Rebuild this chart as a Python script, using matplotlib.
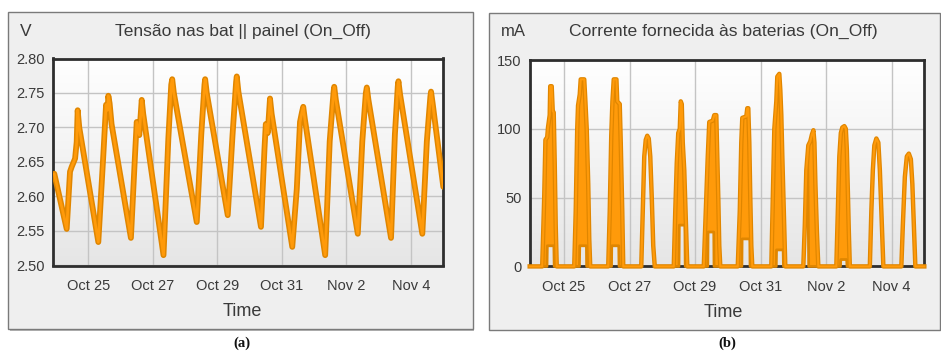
import numpy as np
import matplotlib
matplotlib.use("Agg")
import matplotlib.pyplot as plt
from matplotlib.patches import Rectangle

# ---------------------------------------------------------------------------
# Data (time in days since Oct 25 00:00)
# ---------------------------------------------------------------------------
date_ticks = [0, 2, 4, 6, 8, 10]
date_labels = ["Oct 25", "Oct 27", "Oct 29", "Oct 31", "Nov 2", "Nov 4"]

volt_ticks = [2.50, 2.55, 2.60, 2.65, 2.70, 2.75, 2.80]
current_ticks = [0, 50, 100, 150]

# battery voltage, V
volt_days = [-1.054, -0.67, -0.567, -0.515, -0.41, -0.36, -0.33, -0.28, 0.31,
             0.465, 0.55, 0.60, 0.62, 0.66, 0.72, 1.32,
             1.447, 1.50, 1.58, 1.655, 1.70, 2.33,
             2.48, 2.57, 2.60, 2.65, 3.36,
             3.50, 3.60, 3.62, 3.67, 4.32,
             4.47, 4.58, 4.60, 4.65, 5.35,
             5.46, 5.50, 5.56, 5.63, 5.68, 6.32,
             6.46, 6.56, 6.62, 6.66, 6.71, 7.34,
             7.48, 7.60, 7.62, 7.67, 8.35,
             8.49, 8.60, 8.63, 8.68, 9.38,
             9.50, 9.59, 9.61, 9.66, 10.35,
             10.49, 10.60, 10.62, 10.67, 11.0]
volt_values = [2.633, 2.553, 2.636, 2.643, 2.655, 2.679, 2.725, 2.700, 2.534,
               2.660, 2.733, 2.725, 2.746, 2.735, 2.705, 2.540,
               2.660, 2.708, 2.689, 2.740, 2.720, 2.515,
               2.684, 2.762, 2.770, 2.750, 2.563,
               2.690, 2.762, 2.770, 2.750, 2.573,
               2.690, 2.766, 2.774, 2.752, 2.556,
               2.670, 2.705, 2.692, 2.742, 2.720, 2.527,
               2.611, 2.708, 2.722, 2.730, 2.712, 2.515,
               2.680, 2.752, 2.759, 2.740, 2.546,
               2.680, 2.750, 2.758, 2.740, 2.540,
               2.690, 2.760, 2.767, 2.748, 2.546,
               2.680, 2.745, 2.752, 2.735, 2.614]

# charging current bursts, mA: upper envelope of the on/off switching
burst_top_days = [
    [-0.666, -0.605, -0.568, -0.513, -0.489, -0.437, -0.421, -0.376, -0.345, -0.315, -0.284, -0.254, -0.223],
    [0.312, 0.357, 0.403, 0.428, 0.480, 0.510, 0.617, 0.648, 0.693, 0.739, 0.770, 0.800],
    [1.350, 1.396, 1.442, 1.478, 1.518, 1.600, 1.625, 1.701, 1.732, 1.778, 1.808],
    [2.358, 2.404, 2.450, 2.495, 2.541, 2.587, 2.633, 2.679, 2.724, 2.770],
    [3.351, 3.396, 3.442, 3.488, 3.534, 3.564, 3.595, 3.625, 3.671, 3.717, 3.763],
    [4.267, 4.328, 4.389, 4.435, 4.542, 4.588, 4.649, 4.679, 4.710, 4.740, 4.771],
    [5.305, 5.366, 5.412, 5.443, 5.565, 5.596, 5.626, 5.657, 5.687, 5.718, 5.748],
    [6.329, 6.375, 6.421, 6.482, 6.512, 6.573, 6.604, 6.634, 6.665, 6.711, 6.756],
    [7.306, 7.352, 7.398, 7.459, 7.520, 7.570, 7.614, 7.645, 7.675, 7.721, 7.764],
    [8.314, 8.360, 8.406, 8.452, 8.497, 8.559, 8.604, 8.635, 8.665, 8.696, 8.726],
    [9.337, 9.383, 9.429, 9.475, 9.536, 9.597, 9.643, 9.689, 9.734, 9.750],
    [10.299, 10.345, 10.406, 10.467, 10.528, 10.589, 10.635, 10.681, 10.727],
]
burst_top_mA = [
    [0, 50, 92, 94, 101, 110, 131, 131, 113, 112, 75, 30, 0],
    [0, 40, 100, 117, 125, 136, 136, 122, 100, 60, 20, 0],
    [0, 40, 95, 120, 136, 136, 120, 118, 90, 40, 0],
    [0, 40, 80, 92, 95, 93, 80, 50, 15, 0],
    [0, 40, 75, 97, 100, 120, 118, 90, 70, 35, 0],
    [0, 40, 80, 105, 106, 110, 110, 80, 50, 15, 0],
    [0, 40, 90, 108, 109, 115, 115, 90, 50, 15, 0],
    [0, 50, 100, 120, 138, 140, 128, 110, 80, 40, 0],
    [0, 30, 70, 88, 91, 96, 99, 90, 60, 25, 0],
    [0, 40, 80, 97, 101, 102, 100, 85, 55, 25, 0],
    [0, 40, 70, 88, 93, 90, 70, 40, 10, 0],
    [0, 30, 65, 80, 82, 78, 60, 30, 0],
]
# lower envelope of the switching (None: smooth, no switching)
burst_low_days = [
    [-0.666, -0.52, -0.51, -0.31, -0.30, -0.223],
    [0.312, 0.47, 0.48, 0.684, 0.69, 0.800],
    [1.350, 1.45, 1.457, 1.671, 1.68, 1.808],
    None,
    [3.351, 3.51, 3.52, 3.69, 3.70, 3.763],
    [4.267, 4.39, 4.398, 4.572, 4.58, 4.771],
    [5.305, 5.43, 5.437, 5.672, 5.68, 5.748],
    [6.329, 6.48, 6.488, 6.690, 6.70, 6.756],
    [7.306, 7.352, 7.398, 7.44, 7.47, 7.764],
    [8.314, 8.44, 8.45, 8.63, 8.64, 8.726],
    None,
    None,
]
burst_low_mA = [
    [0, 0, 15, 15, 0, 0],
    [0, 0, 15, 15, 0, 0],
    [0, 0, 15, 15, 0, 0],
    None,
    [0, 0, 30, 30, 0, 0],
    [0, 0, 25, 25, 0, 0],
    [0, 0, 20, 20, 0, 0],
    [0, 0, 12, 12, 0, 0],
    [0, 30, 70, 80, 0, 0],
    [0, 0, 5, 5, 0, 0],
    None,
    None,
]

# ---------------------------------------------------------------------------
# Styling
# ---------------------------------------------------------------------------
W, H = 941, 354
plt.rcParams["font.family"] = ["Liberation Sans", "DejaVu Sans"]
TXT = "#3a3a3a"
ORANGE = "#ff9a0a"
ORANGE_DK = "#e08600"
PANEL_BG = "#efefef"


def fx(px):
    return px / W


def fy(py):
    return 1 - py / H


fig = plt.figure(figsize=(W / 100, H / 100), dpi=100)
fig.patch.set_facecolor("white")

# panel frames (drawn underneath the axes)
for x0, y0, x1, y1 in [(8.3, 11.7, 472.7, 329.3), (489.3, 12.5, 939.5, 330.0)]:
    fig.add_artist(Rectangle((fx(x0) + 0.0015, fy(y1) - 0.004), fx(x1 - x0), (y1 - y0) / H,
                             transform=fig.transFigure, facecolor="#b8b8b8",
                             edgecolor="none", zorder=-3))
    fig.add_artist(Rectangle((fx(x0), fy(y1)), fx(x1 - x0), (y1 - y0) / H,
                             transform=fig.transFigure, facecolor=PANEL_BG,
                             edgecolor="#7a7a7a", linewidth=1.0, zorder=-2))


def style_axes(ax, ylim, yticks, yfmt, xlim):
    ax.set_zorder(1)
    ax.set_facecolor("white")
    grad = np.linspace(1.0, 0.0, 256).reshape(-1, 1)
    ax.imshow(grad, extent=[0, 1, 0, 1], transform=ax.transAxes, aspect="auto",
              cmap=matplotlib.colors.LinearSegmentedColormap.from_list(
                  "bg", ["#e6e6e6", "#ffffff"]), vmin=0, vmax=1, zorder=0)
    ax.set_xlim(*xlim)
    ax.set_ylim(*ylim)
    ax.set_xticks(date_ticks)
    ax.set_xticklabels(date_labels)
    ax.set_yticks(yticks)
    ax.set_yticklabels([yfmt.format(v) for v in yticks])
    ax.grid(True, color="#c4c4c4", linewidth=1.0, zorder=1)
    ax.tick_params(length=0, labelsize=10.5, colors=TXT)
    ax.tick_params(axis="x", pad=10)
    ax.tick_params(axis="y", pad=6)
    for s in ax.spines.values():
        s.set_color("#2e2e2e")
        s.set_linewidth(2.0)


# ---------------- (a) battery voltage ----------------
ax1 = fig.add_axes([fx(53.3), fy(265.5), fx(390.0), 207.0 / H])
style_axes(ax1, (2.50, 2.80), volt_ticks, "{:.2f}", (-1.085, 11.0))
ax1.plot(volt_days, volt_values, color=ORANGE_DK, linewidth=4.2, zorder=3,
         solid_joinstyle="round", solid_capstyle="round")
ax1.plot(volt_days, volt_values, color=ORANGE, linewidth=2.0, zorder=4,
         solid_joinstyle="round", solid_capstyle="round")

# ---------------- (b) charging current ----------------
ax2 = fig.add_axes([fx(529.7), fy(266.4), fx(394.6), 206.3 / H])
style_axes(ax2, (0, 150), current_ticks, "{:.0f}", (-1.048, 11.0))

series_t = [-1.048]
series_v = [0]
for t_top, v_top, t_low, v_low in zip(burst_top_days, burst_top_mA,
                                      burst_low_days, burst_low_mA):
    series_t += t_top
    series_v += v_top
    if t_low is not None:
        poly_t = list(t_top) + list(t_low)[::-1]
        poly_v = list(v_top) + list(v_low)[::-1]
        ax2.fill(poly_t, poly_v, color=ORANGE, edgecolor="none", zorder=3)
        ax2.plot(t_low, v_low, color=ORANGE_DK, linewidth=2.0, zorder=4,
                 clip_on=False, solid_joinstyle="round")
series_t.append(11.0)
series_v.append(0)
ax2.plot(series_t, series_v, color=ORANGE_DK, linewidth=3.2, zorder=5,
         clip_on=False, solid_joinstyle="round")
ax2.plot(series_t, series_v, color=ORANGE, linewidth=1.5, zorder=6,
         clip_on=False, solid_joinstyle="round")

# ---------------- panel texts ----------------
fig.text(fx(26), fy(31.7), "V", ha="center", va="center", fontsize=12.5, color=TXT)
fig.text(fx(242.5), fy(31.7), "Tensão nas bat || painel (On_Off)", ha="center",
         va="center", fontsize=12.5, color=TXT)
fig.text(fx(513.5), fy(31.7), "mA", ha="center", va="center", fontsize=12, color=TXT)
fig.text(fx(723.5), fy(31.7), "Corrente fornecida às baterias (On_Off)", ha="center",
         va="center", fontsize=12.6, color=TXT)
fig.text(fx(242.5), fy(311.7), "Time", ha="center", va="center", fontsize=13, color=TXT)
fig.text(fx(723.0), fy(312.7), "Time", ha="center", va="center", fontsize=13, color=TXT)
fig.text(fx(242.0), fy(343.3), "(a)", ha="center", va="center", fontsize=10.5,
         fontweight="bold", family=["Liberation Serif", "DejaVu Serif"], color="#111111")
fig.text(fx(727.0), fy(343.3), "(b)", ha="center", va="center", fontsize=10.5,
         fontweight="bold", family=["Liberation Serif", "DejaVu Serif"], color="#111111")

fig.savefig("out.png", dpi=100, facecolor="white")
